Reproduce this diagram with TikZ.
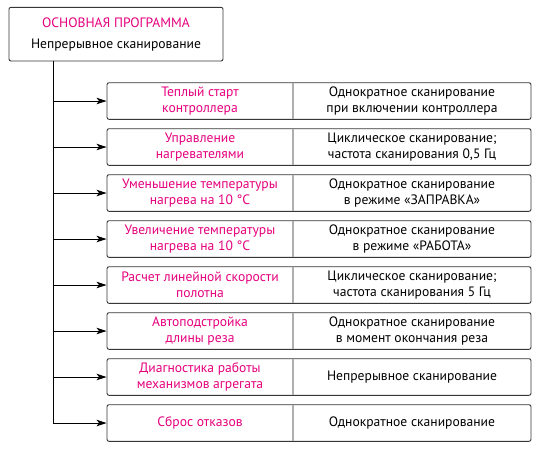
\documentclass[tikz,border=0pt]{standalone}
\usepackage{fontspec}
\setmainfont{PT Sans}
\usetikzlibrary{arrows.meta}
\definecolor{pinkc}{RGB}{230,0,126}
\definecolor{edgec}{RGB}{55,55,55}
\definecolor{divc}{RGB}{175,175,175}
\tikzset{
  boxst/.style={draw=edgec, line width=0.9pt, rounded corners=2pt, fill=white, inner sep=0pt},
  rowst/.style={boxst, minimum width=424pt, minimum height=36.6pt},
  lbl/.style={text=pinkc, align=center, font=\fontsize{13.6}{16.3}\selectfont, inner sep=0pt},
  rlbl/.style={text=black, align=center, font=\fontsize{13.6}{16.3}\selectfont, inner sep=0pt},
  conn/.style={draw=black, line width=0.9pt},
  arr/.style={conn, -{Stealth[length=10pt,width=6.5pt,inset=2.5pt]}},
  divl/.style={draw=divc, line width=1.6pt}
}
\begin{document}
\begin{tikzpicture}[x=1pt,y=-1pt]
\useasboundingbox (0,0) rectangle (540,451);
\node[boxst, minimum width=214pt, minimum height=53.7pt] (top) at (116,34.15) {};
\node[lbl] (toptitle) at (116,23) {ОСНОВНАЯ ПРОГРАММА};
\node[rlbl] (topsub) at (116,45) {Непрерывное сканирование};
\coordinate (trunk) at (53.3,61);
\foreach \i/\L/\R in {
  1/{Теплый старт\\контроллера}/{Однократное сканирование\\при включении контроллера},
  2/{Управление\\нагревателями}/{Циклическое сканирование;\\частота сканирования 0,5 Гц},
  3/{Уменьшение температуры\\нагрева на 10 °C}/{Однократное сканирование\\в режиме «ЗАПРАВКА»},
  4/{Увеличение температуры\\нагрева на 10 °C}/{Однократное сканирование\\в режиме «РАБОТА»},
  5/{Расчет линейной скорости\\полотна}/{Циклическое сканирование;\\частота сканирования 5 Гц},
  6/{Автоподстройка\\длины реза}/{Однократное сканирование\\в момент окончания реза},
  7/{Диагностика работы\\механизмов агрегата}/{Непрерывное сканирование},
  8/{Сброс отказов}/{Однократное сканирование}}
{
  \pgfmathsetmacro{\yc}{82.7+18.3+46*(\i-1)}
  \node[rowst] (r\i) at (319,\yc) {};
  \draw[divl] ([yshift=-0.5pt]r\i.north -| 292.7,0) -- ([yshift=0.5pt]r\i.south -| 292.7,0);
  \node[lbl] (l\i) at (200,\yc) {\L};
  \node[rlbl] (v\i) at (412,\yc) {\R};
  \draw[arr] (trunk |- r\i.west) -- (r\i.west);
}
\draw[conn] (trunk) -- (trunk |- r8.west);
\end{tikzpicture}
\end{document}
